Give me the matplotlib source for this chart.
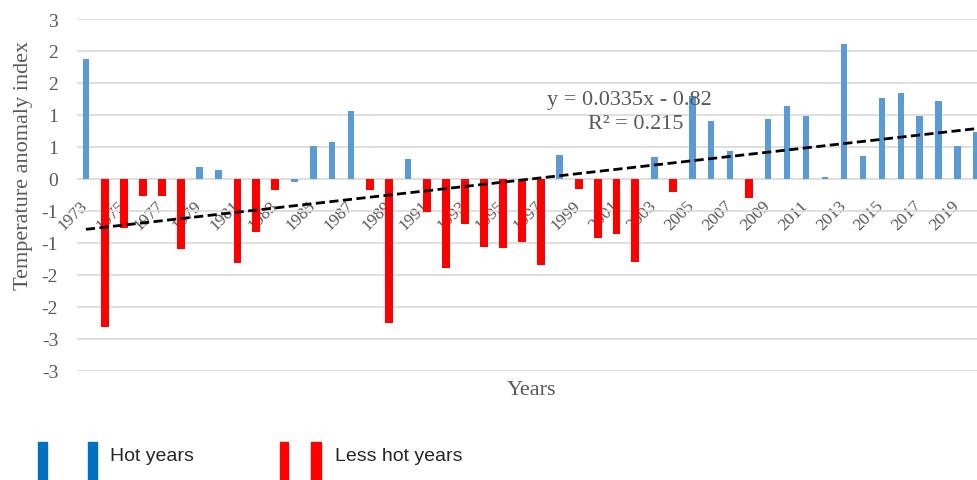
import matplotlib.pyplot as plt
from matplotlib.patches import Rectangle
from matplotlib.transforms import ScaledTranslation
import numpy as np

years = list(range(1973, 2021))
anomaly = [1.875, -2.32, -0.77, -0.26, -0.26, -1.09, 0.18, 0.14, -1.32, -0.83,
           -0.17, -0.04, 0.52, 0.58, 1.07, -0.17, -2.25, 0.31, -0.52, -1.39,
           -0.70, -1.06, -1.08, -0.99, -1.34, 0.38, -0.15, -0.92, -0.86, -1.30,
           0.34, -0.21, 1.30, 0.91, 0.43, -0.30, 0.94, 1.14, 0.98, 0.03,
           2.11, 0.36, 1.27, 1.35, 0.98, 1.22, 0.52, 0.74]
# trend line as shown on the chart: y = 0.0335x - 0.82 (x = 1..48)
slope = 0.0335
intercept = -0.82
yticks = [-3, -2.5, -2, -1.5, -1, -0.5, 0, 0.5, 1, 1.5, 2, 2.5]
ytick_labels = ["-3", "-3", "-2", "-2", "-1", "-1", "0", "1", "1", "2", "2", "3"]

blue = "#5B9BD5"
red = "#FF0000"
grey = "#595959"
serif = ["Liberation Serif", "DejaVu Serif"]

x = np.arange(len(years))
vals = np.array(anomaly)
hot = vals > -0.1

W, H = 978, 481
fig = plt.figure(figsize=(W / 100, H / 100), dpi=100)
ax = fig.add_axes([77 / W, (H - 372) / H, (986 - 77) / W, (372 - 20) / H])

# x axis sits on the zero line (set before the tick labels, it resets them)
for s in ["top", "right", "left"]:
    ax.spines[s].set_visible(False)
ax.spines["bottom"].set_position(("data", 0))
ax.spines["bottom"].set_visible(False)

ax.bar(x[hot], vals[hot], width=0.34, color=blue, zorder=2)
ax.bar(x[~hot], vals[~hot], width=0.42, color=red, zorder=2)

trend = slope * (x + 1) + intercept
ax.plot(x, trend, color="black", linestyle=(0, (3.3, 1.6)), linewidth=2, zorder=3)

ax.text(28.67, 1.25, "y = 0.0335x - 0.82", ha="center", va="center",
        color=grey, fontsize=16, family=serif)
ax.text(29.04, 0.86, "R² = 0.215", ha="center", va="center",
        color=grey, fontsize=16, family=serif)

ax.set_xlim(-0.47, 47.5)
ax.set_ylim(-3, 2.5)
ax.set_yticks(yticks)
ax.set_yticklabels(ytick_labels, family=serif, fontsize=14, color=grey)
ax.set_xticks(x[::2])
ax.set_xticklabels([str(y) for y in years[::2]], family=serif, fontsize=12.5,
                   color=grey, rotation=45, ha="right", rotation_mode="anchor")
ax.tick_params(axis="both", length=0)
ax.tick_params(axis="y", pad=13.5)
ax.tick_params(axis="x", pad=13)
shift = ScaledTranslation(-6 / 100, 0, fig.dpi_scale_trans)
for lab in ax.get_xticklabels():
    lab.set_transform(lab.get_transform() + shift)

ax.grid(axis="y", color="#d9d9d9", linewidth=1.2, zorder=0)
ax.set_axisbelow(True)

ax.set_ylabel("Temperature anomaly index", family=serif, fontsize=16, color=grey)
ax.yaxis.set_label_coords(-0.048, 0.588)
ax.set_xlabel("Years", family=serif, fontsize=16, color=grey)
ax.xaxis.set_label_coords(0.5, -0.025)

# legend below the chart
leg = [(38, 9, "#0070C0"), (88, 9, "#0070C0"), (280, 8, red), (311, 10, red)]
for lx, lw, c in leg:
    fig.add_artist(Rectangle((lx / W, 0), lw / W, (481 - 443) / H,
                             transform=fig.transFigure, color=c))
sans = ["Liberation Sans", "DejaVu Sans"]
fig.text(110 / W, (H - 457) / H, "Hot years", family=sans, fontsize=14,
         color="#262626", va="center")
fig.text(335 / W, (H - 457) / H, "Less hot years", family=sans, fontsize=14,
         color="#262626", va="center")

fig.savefig("out.png", dpi=100)
